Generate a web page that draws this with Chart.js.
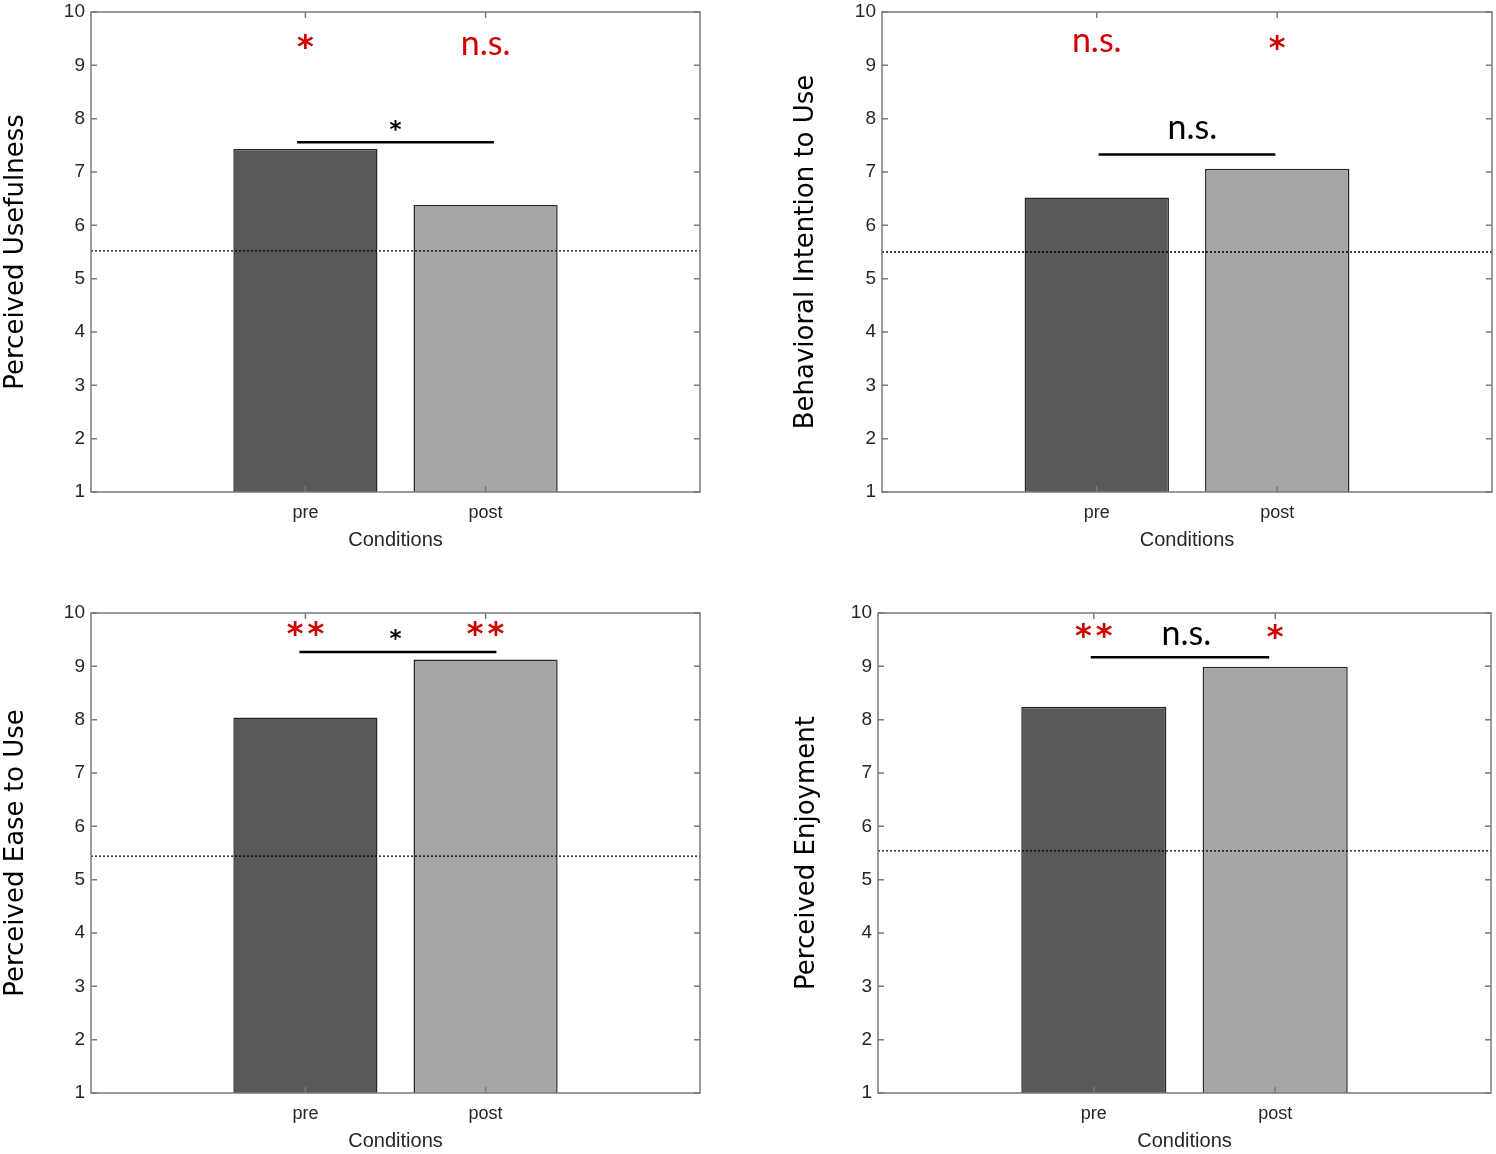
<!DOCTYPE html>
<html>
<head>
<meta charset="utf-8">
<script src="https://cdn.jsdelivr.net/npm/chart.js@4.4.1/dist/chart.umd.min.js"></script>
<style>
  html, body { margin: 0; padding: 0; background: #fff; overflow: hidden; }
  #wrap { position: relative; width: 1496px; height: 1154px; overflow: hidden; }
  canvas { position: absolute; }
</style>
</head>
<body>
<div id="wrap">
  <canvas id="pu" width="748" height="583" style="left:0;top:-6px"></canvas>
  <canvas id="bi" width="748" height="583" style="left:748px;top:-6px"></canvas>
  <canvas id="peu" width="748" height="577" style="left:0;top:577px"></canvas>
  <canvas id="pe" width="748" height="577" style="left:748px;top:577px"></canvas>
</div>
<script>
// categories and axis ticks
const conditions = ['pre', 'post'];
const conditionPos = [1, 2];
const yTicks = [1, 2, 3, 4, 5, 6, 7, 8, 9, 10];
const xRange = [-0.19, 3.19];

// mean scores per condition
const usefulness = [7.43, 6.38];
const intention = [6.52, 7.06];
const easeOfUse = [8.04, 9.13];
const enjoyment = [8.24, 8.99];

// dashed reference level per panel
const refUsefulness = 5.52;
const refIntention = 5.50;
const refEaseOfUse = 5.44;
const refEnjoyment = 5.54;

// pre vs post comparison: [from, to, y], then label [text, x, y]
const cmpUsefulness = [0.954, 2.046, 7.56];
const cmpIntention = [1.01, 1.99, 7.33];
const cmpEaseOfUse = [0.967, 2.06, 9.27];
const cmpEnjoyment = [0.983, 1.967, 9.17];
const cmpLabelUsefulness = ['*', 1.5, 7.88];
const cmpLabelIntention = ['n.s.', 1.53, 7.79];
const cmpLabelEaseOfUse = ['*', 1.5, 9.59];
const cmpLabelEnjoyment = ['n.s.', 1.51, 9.56];

// marks vs reference level, one per condition: [text, y]
const markUsefulness = [['*', 9.45], ['n.s.', 9.36]];
const markIntention = [['n.s.', 9.42], ['*', 9.42]];
const markEaseOfUse = [['**', 9.71], ['**', 9.71]];
const markEnjoyment = [['**', 9.68], ['*', 9.65]];

Chart.defaults.font.family = '"Liberation Sans", Arial, sans-serif';
Chart.defaults.color = '#262626';

const barColors = ['#595959', '#a6a6a6'];
const red = '#d00000';
const textFont = '34px Lato, "Open Sans", sans-serif';
const starFont = 'bold 32px "DejaVu Sans", sans-serif';
const smallStarFont = 'bold 23px "DejaVu Sans", sans-serif';

function makeChart(id, yTitle, values, ref, cmp, cmpLabel, marks, pad, yWidth) {
  const notes = [];
  marks.forEach((m, i) => notes.push({
    text: m[0], x: conditionPos[i], y: m[1], color: red,
    font: m[0].startsWith('*') ? starFont : textFont
  }));
  notes.push({
    text: cmpLabel[0], x: cmpLabel[1], y: cmpLabel[2], color: '#000',
    font: cmpLabel[0] === '*' ? smallStarFont : textFont
  });

  const boxPlugin = {
    id: 'box_' + id,
    afterDatasetsDraw(chart) {
      const { ctx, chartArea: a, scales: { x, y } } = chart;
      ctx.save();
      ctx.strokeStyle = '#7a7a7a';
      ctx.lineWidth = 1.5;
      ctx.strokeRect(a.left, a.top, a.width, a.height);
      ctx.beginPath();
      yTicks.forEach(v => {
        const py = y.getPixelForValue(v);
        ctx.moveTo(a.left, py); ctx.lineTo(a.left + 6, py);
        ctx.moveTo(a.right, py); ctx.lineTo(a.right - 6, py);
      });
      conditionPos.forEach(v => {
        const px = x.getPixelForValue(v);
        ctx.moveTo(px, a.top); ctx.lineTo(px, a.top + 6);
        ctx.moveTo(px, a.bottom); ctx.lineTo(px, a.bottom - 6);
      });
      ctx.stroke();
      // significance marks, centred on their glyph box
      ctx.textAlign = 'center';
      ctx.textBaseline = 'alphabetic';
      notes.forEach(n => {
        ctx.font = n.font;
        ctx.fillStyle = n.color;
        const stars = n.text.length > 1 && n.text.startsWith('*');
        ctx.letterSpacing = stars ? '4px' : '0px';
        const m = ctx.measureText(n.text);
        const dy = (m.actualBoundingBoxAscent - m.actualBoundingBoxDescent) / 2;
        ctx.fillText(n.text, x.getPixelForValue(n.x) + (stars ? 2 : 0), y.getPixelForValue(n.y) + dy);
      });
      ctx.restore();
    }
  };

  return new Chart(document.getElementById(id), {
    type: 'bar',
    data: {
      datasets: [{
        type: 'line',
        data: [{ x: xRange[0], y: ref }, { x: xRange[1], y: ref }],
        borderColor: '#000',
        borderWidth: 1.3,
        borderDash: [2, 2],
        pointRadius: 0,
        order: 0
      }, {
        type: 'line',
        data: [{ x: cmp[0], y: cmp[2] }, { x: cmp[1], y: cmp[2] }],
        borderColor: '#000',
        borderWidth: 2.5,
        pointRadius: 0,
        order: 0
      }, {
        type: 'bar',
        data: values.map((v, i) => ({ x: conditionPos[i], y: v })),
        backgroundColor: barColors,
        borderColor: '#262626',
        borderWidth: 1.5,
        base: 1,
        barPercentage: 0.8,
        categoryPercentage: 1,
        order: 2
      }]
    },
    options: {
      responsive: false,
      animation: false,
      layout: { padding: pad },
      plugins: { legend: { display: false }, tooltip: { enabled: false } },
      scales: {
        x: {
          type: 'linear',
          offset: false,
          min: xRange[0],
          max: xRange[1],
          afterBuildTicks: s => { s.ticks = conditionPos.map(v => ({ value: v })); },
          afterFit: s => { s.height = 60; },
          ticks: {
            callback: v => conditions[conditionPos.indexOf(v)],
            font: { size: 18 },
            padding: 10,
            maxRotation: 0,
            autoSkip: false
          },
          grid: { display: false, drawTicks: false },
          border: { display: false },
          title: { display: true, text: 'Conditions', font: { size: 20 }, padding: 0 }
        },
        y: {
          type: 'linear',
          min: 1,
          max: 10,
          afterBuildTicks: s => { s.ticks = yTicks.map(v => ({ value: v })); },
          afterFit: s => { s.width = yWidth; },
          ticks: { font: { size: 19 }, padding: 6 },
          grid: { display: false, drawTicks: false },
          border: { display: false },
          title: {
            display: true, text: yTitle, color: '#000',
            font: { family: '"DejaVu Sans", sans-serif', size: 26 },
            padding: { top: 1, bottom: 0 }
          }
        }
      }
    },
    plugins: [boxPlugin]
  });
}

makeChart('pu', 'Perceived Usefulness', usefulness, refUsefulness, cmpUsefulness, cmpLabelUsefulness,
  markUsefulness, { left: 0, right: 48, top: 18, bottom: 25 }, 91);
makeChart('bi', 'Behavioral Intention to Use', intention, refIntention, cmpIntention, cmpLabelIntention,
  markIntention, { left: 42, right: 4, top: 18, bottom: 25 }, 92);
makeChart('peu', 'Perceived Ease to Use', easeOfUse, refEaseOfUse, cmpEaseOfUse, cmpLabelEaseOfUse,
  markEaseOfUse, { left: 0, right: 48, top: 36, bottom: 1 }, 91);
makeChart('pe', 'Perceived Enjoyment', enjoyment, refEnjoyment, cmpEnjoyment, cmpLabelEnjoyment,
  markEnjoyment, { left: 43, right: 5, top: 36, bottom: 1 }, 87);
</script>
</body>
</html>
